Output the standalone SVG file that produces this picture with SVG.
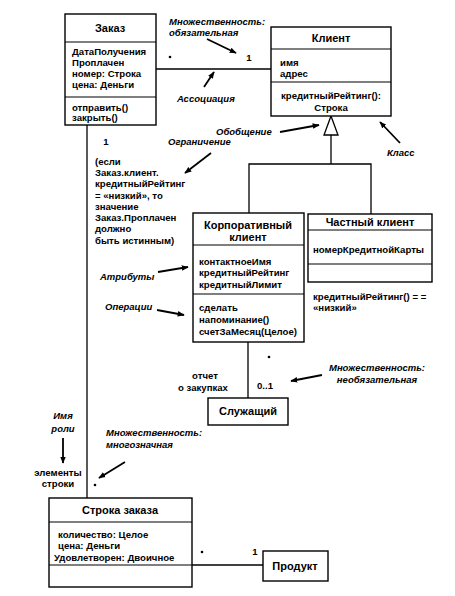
<svg xmlns="http://www.w3.org/2000/svg" width="455" height="596" viewBox="0 0 455 596">
<defs>
<marker id="ah" viewBox="0 0 10 10" refX="9" refY="5" markerWidth="7" markerHeight="7" markerUnits="userSpaceOnUse" orient="auto">
<path d="M0,1 L10,5 L0,9 Z" fill="#000"/>
</marker>
<style>
.box{fill:#fff;stroke:#000;stroke-width:1.4}
.sep{stroke:#000;stroke-width:1.2}
.ln{stroke:#000;stroke-width:1.3;fill:none}
.t{font-family:"Liberation Sans",Arial,sans-serif;font-weight:bold;font-size:9.6px;fill:#000}
.h{font-family:"Liberation Sans",Arial,sans-serif;font-weight:bold;font-size:11px;fill:#000;text-anchor:middle}
.c{text-anchor:middle}
.a{font-family:"Liberation Sans",Arial,sans-serif;font-weight:bold;font-style:italic;font-size:9.5px;fill:#000}
.arr{stroke:#000;stroke-width:1.8;fill:none;marker-end:url(#ah)}
.dot{fill:#000}
</style>
</defs>
<rect width="455" height="596" fill="#fff"/>

<g id="connectors">
<line class="ln" x1="156" y1="69" x2="271" y2="69"/>
<line class="ln" x1="87" y1="125" x2="87" y2="498"/>
<polyline class="ln" points="331,135 331,164"/>
<polyline class="ln" points="249,213 249,164 371,164 371,214"/>
<path d="M331,116 L338,135 L324,135 Z" fill="#fff" stroke="#000" stroke-width="1.3"/>
<line class="ln" x1="248" y1="342" x2="248" y2="398"/>
<line class="ln" x1="192" y1="565" x2="263" y2="565"/>
<circle class="dot" cx="170" cy="57" r="1.3"/>
<text class="t c" x="249" y="61">1</text>
<text class="t c" x="106" y="145">1</text>
<circle class="dot" cx="269" cy="357" r="1.3"/>
<text class="t c" x="265" y="389">0..1</text>
<text class="t c" x="205" y="379">отчет</text>
<text class="t c" x="203" y="391">о закупках</text>
<text class="t c" x="58" y="476">элементы</text>
<text class="t c" x="58" y="487">строки</text>
<circle class="dot" cx="95" cy="485" r="1.3"/>
<circle class="dot" cx="202" cy="552" r="1.3"/>
<text class="t c" x="255" y="555">1</text>
</g>

<g id="zakaz">
<rect class="box" x="65" y="14" width="91" height="111"/>
<line class="sep" x1="65" y1="42" x2="156" y2="42"/>
<line class="sep" x1="65" y1="97" x2="156" y2="97"/>
<text class="h" x="110" y="32">Заказ</text>
<text class="t" x="72" y="55">ДатаПолучения</text>
<text class="t" x="72" y="66">Проплачен</text>
<text class="t" x="72" y="77">номер: Строка</text>
<text class="t" x="72" y="88">цена: Деньги</text>
<text class="t" x="72" y="111">отправить()</text>
<text class="t" x="72" y="121">закрыть()</text>
</g>

<g id="klient">
<rect class="box" x="271" y="27" width="120" height="89"/>
<line class="sep" x1="271" y1="49" x2="391" y2="49"/>
<line class="sep" x1="271" y1="82" x2="391" y2="82"/>
<text class="h" x="331" y="42">Клиент</text>
<text class="t" x="280" y="66">имя</text>
<text class="t" x="280" y="77">адрес</text>
<text class="t c" x="331" y="99">кредитныйРейтинг():</text>
<text class="t c" x="331" y="111">Строка</text>
</g>

<g id="korp">
<rect class="box" x="193" y="213" width="111" height="129"/>
<line class="sep" x1="193" y1="245" x2="304" y2="245"/>
<line class="sep" x1="193" y1="294" x2="304" y2="294"/>
<text class="h" x="248" y="229">Корпоративный</text>
<text class="h" x="248" y="241">клиент</text>
<text class="t" x="199" y="265">контактноеИмя</text>
<text class="t" x="199" y="276">кредитныйРейтинг</text>
<text class="t" x="199" y="288">кредитныйЛимит</text>
<text class="t" x="199" y="311">сделать</text>
<text class="t" x="199" y="323">напоминание()</text>
<text class="t" x="199" y="335">счетЗаМесяц(Целое)</text>
</g>

<g id="chastny">
<rect class="box" x="308" y="214" width="124" height="68"/>
<line class="sep" x1="308" y1="230" x2="432" y2="230"/>
<line class="sep" x1="308" y1="264" x2="432" y2="264"/>
<text class="h" x="370" y="226">Частный клиент</text>
<text class="t" x="313" y="253">номерКредитнойКарты</text>
</g>

<g id="sluzh">
<rect class="box" x="208" y="398" width="80" height="27"/>
<text class="h" x="248" y="415">Служащий</text>
</g>

<g id="stroka">
<rect class="box" x="49" y="498" width="143" height="89"/>
<line class="sep" x1="49" y1="522" x2="192" y2="522"/>
<line class="sep" x1="49" y1="565" x2="192" y2="565"/>
<text class="h" x="120" y="514">Строка заказа</text>
<text class="t" x="58" y="538">количество: Целое</text>
<text class="t" x="58" y="549">цена: Деньги</text>
<text class="t" x="54" y="561">Удовлетворен: Двоичное</text>
</g>

<g id="produkt">
<rect class="box" x="263" y="551" width="65" height="30"/>
<text class="h" x="295" y="570">Продукт</text>
</g>

<g id="constraint">
<text class="t" x="95" y="165">(если</text>
<text class="t" x="95" y="176">Заказ.клиент.</text>
<text class="t" x="95" y="187">кредитныйРейтинг</text>
<text class="t" x="95" y="199">= «низкий», то</text>
<text class="t" x="95" y="210">значение</text>
<text class="t" x="95" y="221">Заказ.Проплачен</text>
<text class="t" x="95" y="232">должно</text>
<text class="t" x="95" y="244">быть истинным)</text>
</g>

<g id="note-rating">
<text class="t" x="313" y="300">кредитныйРейтинг() = =</text>
<text class="t" x="313" y="311">«низкий»</text>
</g>

<g id="annotations">
<text class="a" x="169" y="25">Множественность:</text>
<text class="a" x="169" y="36">обязательная</text>
<line class="arr" x1="207" y1="39" x2="236" y2="53"/>
<text class="a" x="177" y="102">Ассоциация</text>
<line class="arr" x1="204" y1="87" x2="214" y2="72"/>
<text class="a" x="216" y="135">Обобщение</text>
<line class="arr" x1="280" y1="132" x2="319" y2="125"/>
<text class="a" x="168" y="145">Ограничение</text>
<line class="arr" x1="211" y1="153" x2="185" y2="173"/>
<text class="a" x="387" y="156">Класс</text>
<line class="arr" x1="400" y1="143" x2="380" y2="122"/>
<text class="a" x="100" y="280">Атрибуты</text>
<line class="arr" x1="158" y1="272" x2="188" y2="267"/>
<text class="a" x="105" y="310">Операции</text>
<line class="arr" x1="157" y1="310" x2="184" y2="315"/>
<text class="a c" x="377" y="371">Множественность:</text>
<text class="a c" x="377" y="383">необязательная</text>
<line class="arr" x1="322" y1="375" x2="291" y2="381"/>
<text class="a c" x="63" y="419">Имя</text>
<text class="a c" x="63" y="432">роли</text>
<line class="arr" x1="63" y1="438" x2="63" y2="463"/>
<text class="a" x="106" y="436">Множественность:</text>
<text class="a" x="106" y="448">многозначная</text>
<line class="arr" x1="125" y1="462" x2="99" y2="478"/>
</g>
</svg>
